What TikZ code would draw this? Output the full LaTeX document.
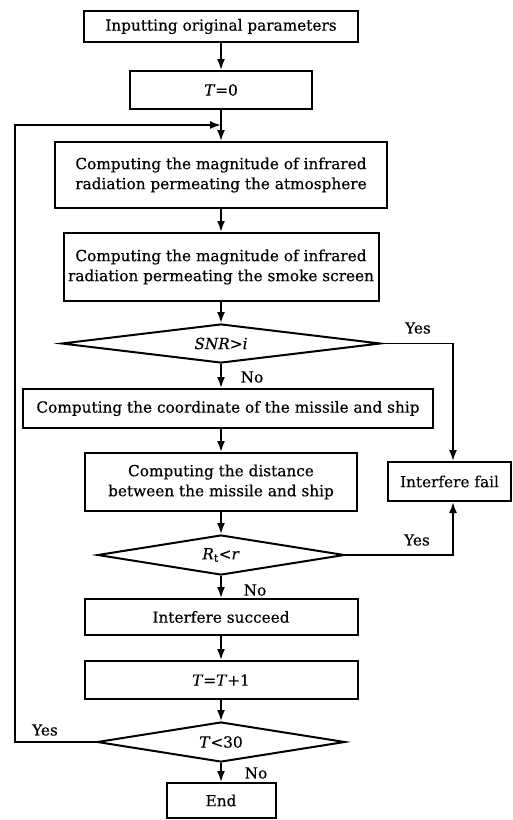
\documentclass[tikz,border=0pt]{standalone}
\usepackage{fontspec}
\setmainfont{DejaVu Serif}[UprightFeatures={FakeBold=0.4},ItalicFeatures={FakeBold=0.4}]
\usetikzlibrary{shapes.geometric,arrows.meta}
\begin{document}
\begin{tikzpicture}[x=1pt,y=-1pt,
  box/.style={draw,line width=2pt,inner sep=0pt,align=center,font=\fontsize{15.3}{20}\selectfont},
  dec/.style={draw,diamond,aspect=8,inner sep=0pt,line width=2pt,font=\fontsize{15.3}{20}\selectfont},
  arr/.style={line width=1.8pt,-{Latex[length=11pt,width=8pt]}},
  lab/.style={font=\fontsize{15.3}{18}\selectfont,inner sep=0pt}]
\useasboundingbox (0,0) rectangle (513,820);
% main column
\node[box,minimum width=274pt,minimum height=31pt] (b1) at (221,26.5) {Inputting original parameters};
\node[box,minimum width=182pt,minimum height=38pt] (b2) at (221,90) {\textit{T}=0};
\node[box,minimum width=332pt,minimum height=66pt] (b3) at (221,175) {Computing the magnitude of infrared\\radiation permeating the atmosphere};
\node[box,minimum width=315pt,minimum height=68pt] (b4) at (221,267) {Computing the magnitude of infrared\\radiation permeating the smoke screen};
\node[dec,minimum width=319pt,minimum height=39pt] (d1) at (221,343.5) {\textit{SNR}>\textit{i}};
\node[box,minimum width=410pt,minimum height=39pt] (b5) at (228,408.5) {Computing the coordinate of the missile and ship};
\node[box,minimum width=272pt,minimum height=58pt] (b6) at (221,482) {Computing the distance\\between the missile and ship};
\node[dec,minimum width=247pt,minimum height=40pt] (d2) at (221,555) {\textit{R}\textsubscript{t}<\textit{r}};
\node[box,minimum width=273pt,minimum height=36pt] (b7) at (221,617) {Interfere succeed};
\node[box,minimum width=273pt,minimum height=38pt] (b8) at (221,680) {\textit{T}=\textit{T}+1};
\node[dec,minimum width=248pt,minimum height=40pt] (d3) at (221,742) {\textit{T}<30};
\node[box,minimum width=109pt,minimum height=35pt] (end) at (221,800.5) {End};
% side box
\node[box,minimum width=123pt,minimum height=39pt] (fail) at (449.5,481.5) {Interfere fail};
% coordinates
\coordinate (j) at (221,125);
\coordinate (lp) at (15,125);
\coordinate (fx) at (453,481.5);
% connectors
\draw[arr] (b1) -- (b2);
\draw[arr] (b2) -- (b3);
\draw[arr] (b3) -- (b4);
\draw[arr] (b4) -- (d1);
\draw[arr] (d1.south) -- (d1.south |- b5.north);
\draw[arr] (d1.south |- b5.south) -- (b6.north);
\draw[arr] (b6) -- (d2);
\draw[arr] (d2) -- (b7);
\draw[arr] (b7) -- (b8);
\draw[arr] (b8) -- (d3);
\draw[arr] (d3) -- (end);
\draw[arr] (d1.east) -| (fx |- fail.north);
\draw[arr] (d2.east) -| (fx |- fail.south);
\draw[arr] (d3.west) -| (lp) -- (j);
% labels
\node[lab] (y1) at (418,328) {Yes};
\node[lab] (n1) at (252,377) {No};
\node[lab] (y2) at (417,540) {Yes};
\node[lab] (n2) at (255,590) {No};
\node[lab] (y3) at (45,730) {Yes};
\node[lab] (n3) at (256,773) {No};
\end{tikzpicture}
\end{document}
